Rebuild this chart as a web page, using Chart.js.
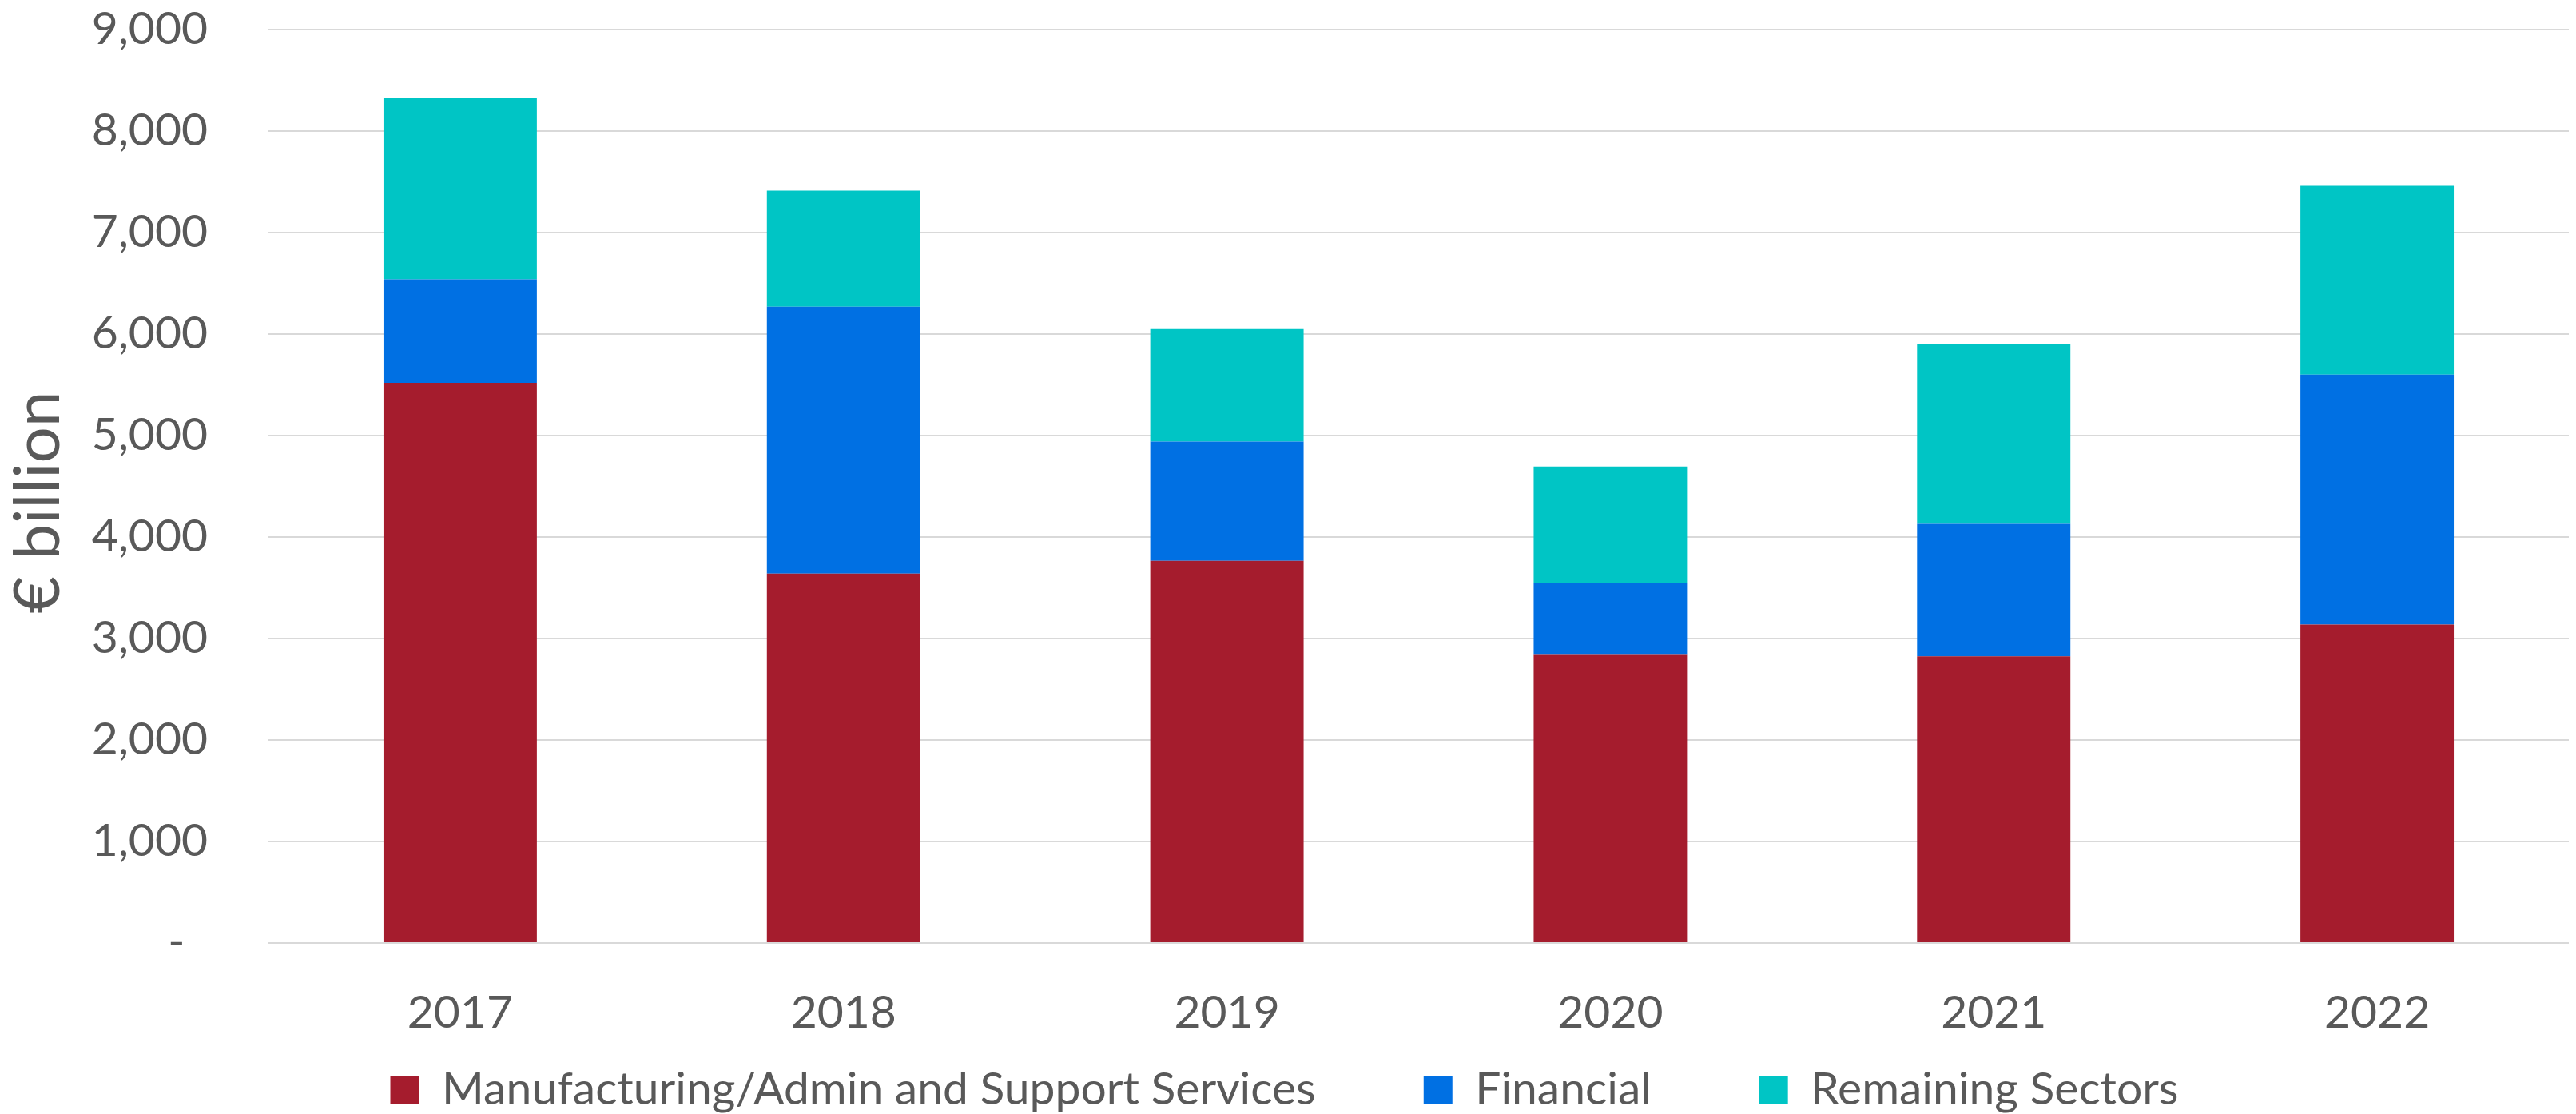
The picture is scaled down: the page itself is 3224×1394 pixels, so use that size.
<!DOCTYPE html>
<html>
<head>
<meta charset="utf-8">
<script src="https://cdn.jsdelivr.net/npm/chart.js@4"></script>
<style>
  html, body { margin: 0; padding: 0; background: #ffffff; }
  #wrap { width: 3224px; height: 1394px; }
</style>
</head>
<body>
<div id="wrap"><canvas id="chart" width="3224" height="1394"></canvas></div>
<script>
// years on the x axis
const years = ['2017', '2018', '2019', '2020', '2021', '2022'];

// € billion per sector, stacked bottom to top
const manufacturing = [5519, 3639, 3765, 2839, 2825, 3137];
const financial = [1021, 2631, 1175, 705, 1305, 2463];
const remaining = [1783, 1144, 1109, 1151, 1768, 1860];

const seriesNames = ['Manufacturing/Admin and Support Services', 'Financial', 'Remaining Sectors'];
const seriesColors = ['#A51C2D', '#0070E3', '#00C5C5'];

const textColor = '#595959';
const fontFamily = 'Lato, "Open Sans", sans-serif';

// fixed band sizes below the plot
const legendHeight = 94;
const xAxisHeight = 120;
const legendPadding = 135;
const legendCenterY = 1364;

function makeDataset(i, values) {
    return {
        label: seriesNames[i],
        data: values,
        backgroundColor: seriesColors[i],
        borderWidth: 0,
        categoryPercentage: 1.0,
        barPercentage: 0.4
    };
}

// legend item spacing also pads the row, so pin its height and
// move the box afterwards so the row lands on legendCenterY
const legendFitPatch = {
    id: 'legendFitPatch',
    beforeLayout(chart) {
        const lg = chart.legend;
        if (lg && !lg._fixedFit) {
            const fit = lg.fit;
            lg.fit = function() {
                fit.call(this);
                this.height = legendHeight;
            };
            lg._fixedFit = true;
        }
    },
    afterLayout(chart) {
        const lg = chart.legend;
        if (!lg) return;
        // legend draws clipped to its own box, so stretch it to the canvas bottom
        lg.top = legendCenterY - 57 / 2 - legendPadding;
        lg.bottom = chart.height;
        lg.height = lg.bottom - lg.top;
    }
};

const ctx = document.getElementById('chart').getContext('2d');
new Chart(ctx, {
    type: 'bar',
    data: {
        labels: years,
        datasets: [
            makeDataset(0, manufacturing),
            makeDataset(1, financial),
            makeDataset(2, remaining)
        ]
    },
    plugins: [legendFitPatch],
    options: {
        responsive: false,
        animation: false,
        layout: {
            padding: { top: 37, right: 9, left: 0, bottom: 0 }
        },
        plugins: {
            tooltip: { enabled: false },
            legend: {
                position: 'bottom',
                labels: {
                    color: textColor,
                    font: { family: fontFamily, size: 57 },
                    boxWidth: 36,
                    boxHeight: 36,
                    padding: legendPadding
                }
            }
        },
        scales: {
            x: {
                stacked: true,
                grid: { display: false },
                border: { display: false },
                ticks: {
                    color: textColor,
                    font: { family: fontFamily, size: 57 },
                    padding: 45
                },
                afterFit: function(scale) {
                    scale.height = xAxisHeight;
                }
            },
            y: {
                stacked: true,
                min: 0,
                max: 9000,
                grid: { color: '#D9D9D9', lineWidth: 2, drawTicks: false },
                border: { display: false },
                ticks: {
                    stepSize: 1000,
                    color: textColor,
                    font: { family: fontFamily, size: 57 },
                    padding: 76,
                    callback: function(value) {
                        return value === 0 ? '-\u2002' : value.toLocaleString('en-US');
                    }
                },
                title: {
                    display: true,
                    text: '€ billion\u2002',
                    color: textColor,
                    font: { family: fontFamily, size: 80 },
                    padding: { top: 0, bottom: 0 }
                },
                afterFit: function(scale) {
                    scale.width = 336;
                    scale.paddingTop = 0;
                    scale.paddingBottom = 0;
                }
            }
        }
    }
});
</script>
</body>
</html>
